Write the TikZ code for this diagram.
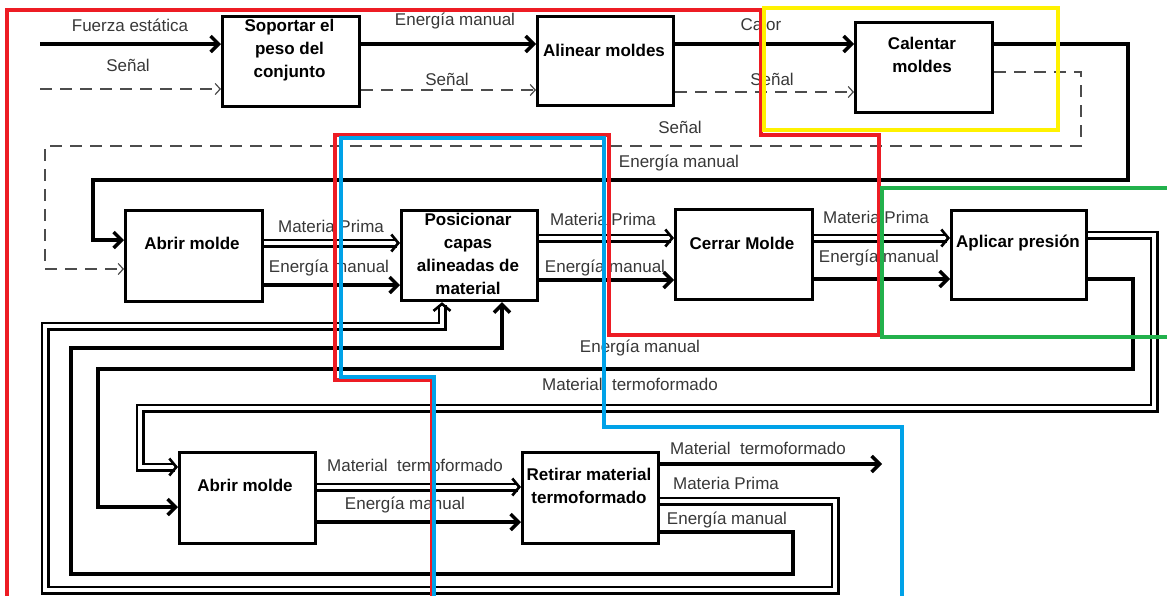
\documentclass[tikz,border=0pt]{standalone}
\usepackage{fontspec}
\setmainfont{Liberation Sans}
\usetikzlibrary{arrows.meta}
\definecolor{pred}{RGB}{237,28,36}
\definecolor{pblue}{RGB}{0,162,232}
\definecolor{pyel}{RGB}{255,242,0}
\definecolor{pgrn}{RGB}{34,177,76}
\begin{document}
\begin{tikzpicture}[x=1pt,y=-1pt,
  blk/.style={draw=black, line width=3.2pt, inner sep=0pt, anchor=north west},
  btxt/.style={font=\fontsize{17pt}{23pt}\selectfont\bfseries, align=center, inner sep=0pt},
  lbl/.style={font=\fontsize{17pt}{20pt}\selectfont, text=black!78, inner sep=0pt},
  thk/.style={draw=black, line width=3.4pt, -{Straight Barb[length=8pt,width=16pt]}},
  dbl/.style={draw=black, line width=2.6pt, double=white, double distance=3.8pt, -{Straight Barb[length=7pt,width=17pt]}},
  sig/.style={draw=black!70, line width=1.2pt, dash pattern=on 12pt off 8pt, -{Straight Barb[length=5pt,width=11pt]}},
  outl/.style={line width=3.2pt}]
\useasboundingbox (0,0) rectangle (1167,595);
\fill[white] (0,0) rectangle (1167,595);

% boxes
\node[blk, minimum width=137pt, minimum height=90pt] (s1) at (221,15) {};
\node[blk, minimum width=136pt, minimum height=89pt] (a1) at (536,15) {};
\node[blk, minimum width=137pt, minimum height=90pt] (c1) at (854,21) {};
\node[blk, minimum width=137pt, minimum height=91pt] (ab1) at (124,209) {};
\node[blk, minimum width=136pt, minimum height=90pt] (p) at (400,209) {};
\node[blk, minimum width=137pt, minimum height=90pt] (cm) at (674,208) {};
\node[blk, minimum width=135pt, minimum height=89pt] (ap) at (950,209) {};
\node[blk, minimum width=136pt, minimum height=91pt] (ab2) at (178,451) {};
\node[blk, minimum width=136pt, minimum height=91pt] (r) at (521,451) {};

% box texts
\node[btxt] (s1t) at (289.5,50) {Soportar el\\peso del\\conjunto};
\node[btxt] (a1t) at (604,50) {Alinear moldes};
\node[btxt] (c1t) at (922,55) {Calentar\\moldes};
\node[btxt] (ab1t) at (192,243) {Abrir molde};
\node[btxt] (pt) at (468,254) {Posicionar\\capas\\alineadas de\\material};
\node[btxt] (cmt) at (742,243) {Cerrar Molde};
\node[btxt] (apt) at (1018,243) {Aplicar presión};
\node[btxt] (ab2t) at (245,485) {Abrir molde};
\node[btxt] (rt) at (589,486) {Retirar material\\termoformado};

% level coordinates
\coordinate (f0) at (40,44);
\coordinate (g0) at (40,89);
\coordinate (g1) at (0,90);
\coordinate (g2) at (0,92);
\coordinate (g3) at (0,72);
\coordinate (e1) at (1128,180);
\coordinate (e2) at (93,240);
\coordinate (d1) at (1081,146);
\coordinate (d2) at (45,269);
\coordinate (m1) at (0,243);
\coordinate (n1) at (0,285);
\coordinate (m2) at (0,238);
\coordinate (n2) at (0,280);
\coordinate (n3) at (0,279);
\coordinate (m3) at (0,235);
\coordinate (t1) at (1154,408);
\coordinate (t2) at (140,467);
\coordinate (u1) at (1133,369);
\coordinate (u2) at (98,507);
\coordinate (m4) at (0,487);
\coordinate (n4) at (0,522);
\coordinate (o1) at (882,464);
\coordinate (m5) at (0,501);
\coordinate (v1) at (835,590);
\coordinate (v2) at (45,326);
\coordinate (v3) at (442,0);
\coordinate (n5) at (0,532);
\coordinate (w1) at (793,574);
\coordinate (w2) at (71,348);
\coordinate (w3) at (502,0);

% row 1
\draw[thk] (f0) -- (s1.west |- f0);
\draw[sig] (g0) -- (s1.west |- g0);
\draw[thk] (s1.east |- f0) -- (a1.west |- f0);
\draw[sig] (s1.east |- g1) -- (a1.west |- g1);
\draw[thk] (a1.east |- f0) -- (c1.west |- f0);
\draw[sig] (a1.east |- g2) -- (c1.west |- g2);
\draw[thk] (c1.east |- f0) -| (e1) -| (e2) -- (ab1.west |- e2);
\draw[sig] (c1.east |- g3) -| (d1) -| (d2) -- (ab1.west |- d2);

% row 2
\draw[dbl] (ab1.east |- m1) -- (p.west |- m1);
\draw[thk] (ab1.east |- n1) -- (p.west |- n1);
\draw[dbl] (p.east |- m2) -- (cm.west |- m2);
\draw[thk] (p.east |- n2) -- (cm.west |- n2);
\draw[dbl] (cm.east |- m2) -- (ap.west |- m2);
\draw[thk] (cm.east |- n3) -- (ap.west |- n3);

% outputs of Aplicar presion
\draw[dbl] (ap.east |- m3) -| (t1) -| (t2) -- (ab2.west |- t2);
\draw[thk] (ap.east |- n3) -| (u1) -| (u2) -- (ab2.west |- u2);

% row 3
\draw[dbl] (ab2.east |- m4) -- (r.west |- m4);
\draw[thk] (ab2.east |- n4) -- (r.west |- n4);
\draw[thk] (r.east |- o1) -- (o1);
\draw[dbl] (r.east |- m5) -| (v1) -| (v2) -| (v3 |- p.south);
\draw[thk] (r.east |- n5) -| (w1) -| (w2) -| (w3 |- p.south);

% labels
\node[lbl] (l1) at (130,25) {Fuerza estática};
\node[lbl] (l2) at (128,65) {Señal};
\node[lbl] (l3) at (455,21) {Energía manual};
\node[lbl] (l4) at (447,79) {Señal};
\node[lbl] (l5) at (761,24) {Calor};
\node[lbl] (l6) at (772,79) {Señal};
\node[lbl] (l7) at (680,127) {Señal};
\node[lbl] (l8) at (679,163) {Energía manual};
\node[lbl] (l9) at (331,226) {Materia Prima};
\node[lbl] (l10) at (329,268) {Energía manual};
\node[lbl] (l11) at (603,219) {Materia Prima};
\node[lbl] (l12) at (605,268) {Energía manual};
\node[lbl] (l13) at (876,217) {Materia Prima};
\node[lbl] (l14) at (879,258) {Energía manual};
\node[lbl] (l15) at (640,348) {Energía manual};
\node[lbl] (l16) at (630,384) {Material~~termoformado};
\node[lbl] (l17) at (415,465) {Material~~termoformado};
\node[lbl] (l18) at (405,505) {Energía manual};
\node[lbl] (l19) at (758,448) {Material~~termoformado};
\node[lbl] (l20) at (726,483) {Materia Prima};
\node[lbl] (l21) at (727,520) {Energía manual};

% coloured outlines
\draw[outl, pred] (7,600) -- (7,10) -- (761,10) -- (761,135) -- (879,135) -- (879,335) -- (609,335) -- (609,135) -- (335,135) -- (335,380) -- (432,380) -- (432,600);
\draw[outl, pblue] (434,600) -- (434,377) -- (341,377) -- (341,138) -- (604,138) -- (604,427) -- (902,427) -- (902,600);
\draw[outl, pyel] (764,8) rectangle (1058,130);
\draw[outl, pgrn] (1175,188) -- (882,188) -- (882,337) -- (1175,337);
\end{tikzpicture}
\end{document}
